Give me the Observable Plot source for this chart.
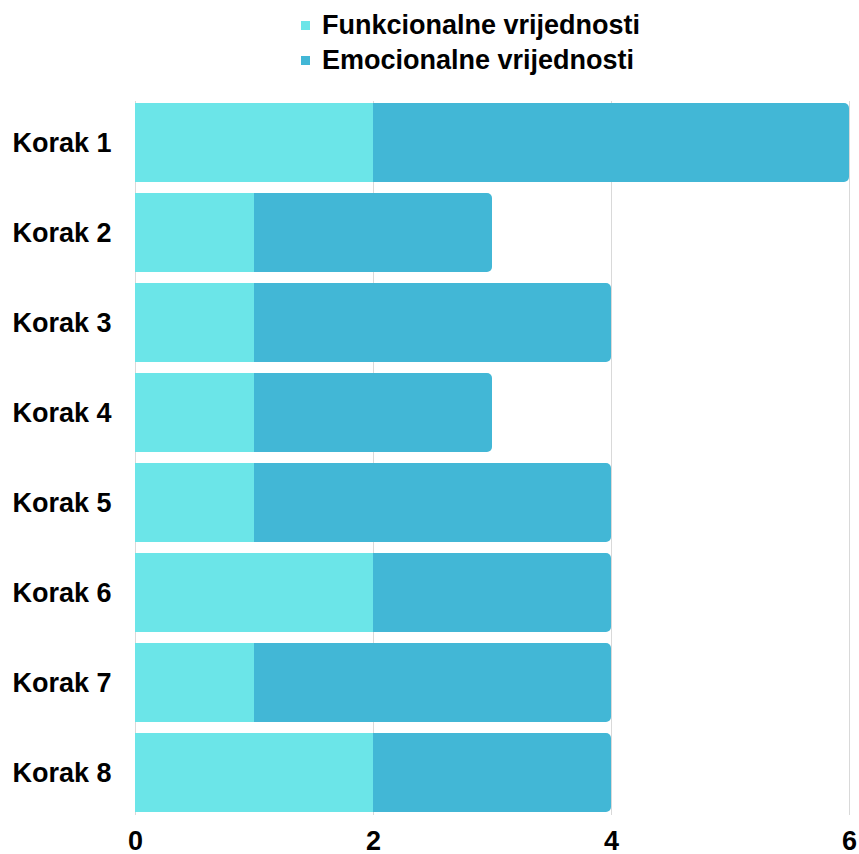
<!DOCTYPE html>
<html>
<head>
<meta charset="utf-8">
<script src="https://cdn.jsdelivr.net/npm/d3@7"></script>
<script src="https://cdn.jsdelivr.net/npm/@observablehq/plot@0.6"></script>
<style>
  html, body { margin: 0; padding: 0; background: #fff; }
  body { width: 859px; font-family: "Liberation Sans", Arial, sans-serif; }
  #legend { height: 84px; position: relative; }
  .item { position: absolute; left: 301px; font-weight: bold; font-size: 27px; line-height: 30px; color: #000; display: flex; align-items: center; }
  .sw { width: 9px; height: 9px; margin-right: 12px; }
</style>
</head>
<body>
<div id="legend"></div>
<div id="chart"></div>
<script>
const categories = ["Korak 1", "Korak 2", "Korak 3", "Korak 4", "Korak 5", "Korak 6", "Korak 7", "Korak 8"];
const seriesNames = ["Funkcionalne vrijednosti", "Emocionalne vrijednosti"];
const funkcionalne = [2, 1, 1, 1, 1, 2, 1, 2];
const emocionalne = [4, 2, 3, 2, 3, 2, 3, 2];
const xTicks = [0, 2, 4, 6];
const colors = ["#6be5e8", "#42b7d6"];

const rows = categories.map((c, i) => ({
  step: c,
  f: funkcionalne[i],
  e: emocionalne[i],
  total: funkcionalne[i] + emocionalne[i]
}));

// legend
const legend = document.getElementById("legend");
seriesNames.forEach((name, i) => {
  const d = document.createElement("div");
  d.className = "item";
  d.style.top = (10 + i * 35) + "px";
  d.innerHTML = `<span class="sw" style="background:${colors[i]}"></span><span>${name}</span>`;
  legend.appendChild(d);
});

const chart = Plot.plot({
  width: 859,
  height: 770,
  marginTop: 17,
  marginBottom: 39,
  marginLeft: 135,
  marginRight: 10,
  style: { fontFamily: "'Liberation Sans', Arial, sans-serif", fontSize: "27px", fontWeight: "bold", color: "#000", background: "#fff", overflow: "visible" },
  x: { domain: [0, 6], ticks: xTicks },
  y: { domain: categories, paddingInner: 0.1167, paddingOuter: 0 },
  marks: [
    Plot.ruleX(xTicks, { stroke: "#d9d9d9", strokeWidth: 1 }),
    Plot.barX(rows, { y: "step", x1: 0, x2: "total", fill: colors[1], rx: 5 }),
    Plot.barX(rows, { y: "step", x1: 0, x2: "f", fill: colors[0] }),
    Plot.axisX({ ticks: xTicks, tickFormat: d3.format("d"), tickSize: 0, tickPadding: 15, label: null, fontSize: 27, fontWeight: "bold" }),
    Plot.axisY({ tickSize: 0, tickPadding: 123, textAnchor: "start", label: null, fontSize: 27, fontWeight: "bold" })
  ]
});
document.getElementById("chart").appendChild(chart);
</script>
</body>
</html>
